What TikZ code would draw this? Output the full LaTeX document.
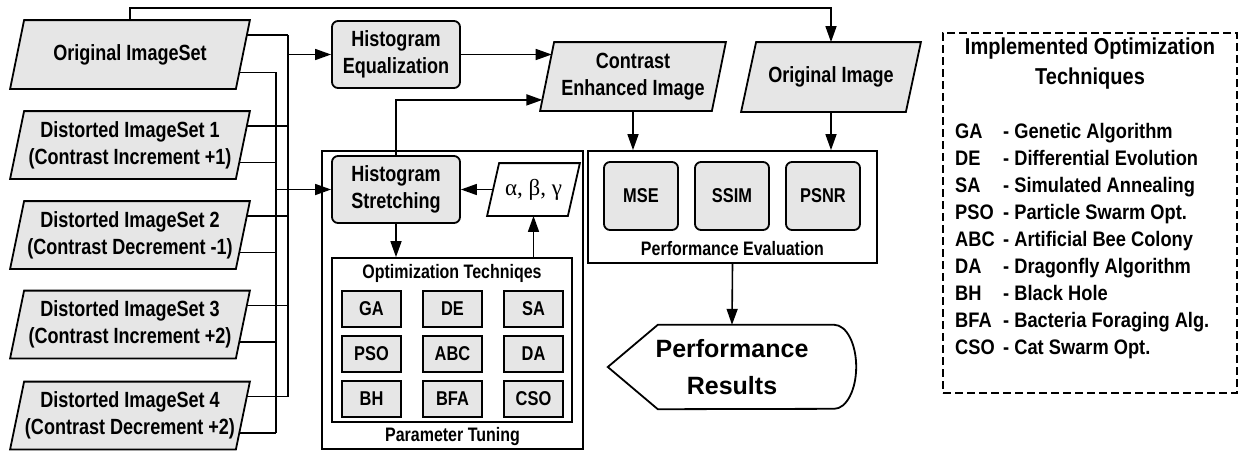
\documentclass[tikz,border=0pt]{standalone}
\usepackage{fontspec}
\setmainfont{Liberation Sans}[FakeStretch=0.82]
\newfontfamily\legfont{Liberation Sans}[FakeStretch=0.87]
\newfontfamily\resfont{Liberation Sans}
\newfontfamily\greekfont{Liberation Serif}
\usetikzlibrary{arrows.meta,positioning,calc,backgrounds}

\definecolor{boxgray}{HTML}{E6E6E6}

\tikzset{
  base/.style={line width=1.8pt, align=center, inner sep=2pt,
    font=\bfseries\fontsize{22}{27}\selectfont},
  dataset/.style={base, rectangle},
  para/.style={line width=1.8pt, draw, fill=boxgray},
  process/.style={base, draw, fill=boxgray, rounded corners=6pt,
    minimum width=128pt, minimum height=67pt},
  frame/.style={draw, line width=1.8pt, inner sep=0pt},
  caption/.style={font=\bfseries\fontsize{19.5}{23}\selectfont, inner sep=1pt},
  technique/.style={base, draw, fill=boxgray, minimum width=59pt,
    minimum height=36pt, font=\bfseries\fontsize{20}{24}\selectfont},
  metric/.style={base, draw, fill=boxgray, rounded corners=6pt,
    minimum width=74pt, minimum height=68pt,
    font=\bfseries\fontsize{20}{24}\selectfont},
  wire/.style={line width=1.6pt},
  arr/.style={line width=1.6pt, -{Triangle[length=16pt,width=11pt]}},
  legitem/.style={inner sep=0pt, font=\legfont\bfseries\fontsize{21}{27}\selectfont}
}

\begin{document}
\begin{tikzpicture}[x=1pt, y=-1pt]
  \useasboundingbox (0,0) rectangle (1239,451);

  % image sets on the left
  \node[dataset, minimum width=238pt, minimum height=67pt] (ois) at (130,54.5) {Original ImageSet};
  \node[dataset, minimum width=238pt, minimum height=66pt] (d1) at (130,145) {Distorted ImageSet 1\\(Contrast Increment +1)};
  \node[dataset, minimum width=238pt, minimum height=66pt] (d2) at (130,235) {Distorted ImageSet 2\\(Contrast Decrement -1)};
  \node[dataset, minimum width=238pt, minimum height=66pt] (d3) at (130,324.5) {Distorted ImageSet 3\\(Contrast Increment +2)};
  \node[dataset, minimum width=238pt, minimum height=66pt] (d4) at (130,415.5) {Distorted ImageSet 4\\(Contrast Decrement +2)};

  \coordinate (busA) at (288,0);
  \coordinate (busB) at (276,0);
  \foreach \n in {ois,d1,d2,d3,d4} {
    \coordinate (\n-up) at ($(\n.north east)!0.22!(\n.south east)+(-3,0)$);
    \coordinate (\n-low) at ($(\n.north east)!0.76!(\n.south east)+(-10.6,0)$);
    \draw[wire] (\n-up) -- (\n-up -| busA);
    \draw[wire] (\n-low) -- (\n-low -| busB);
  }
  \draw[wire] (ois-up -| busA) -- (d4-up -| busA);
  \draw[wire] (ois-low -| busB) -- (d4-low -| busB);

  % enhancement
  \node[frame, minimum width=261pt, minimum height=298pt] (pt) at (452.5,300) {};
  \node[caption] (ptlabel) at (452.5,436) {Parameter Tuning};
  \node[process] (he) at (396,54.5) {Histogram\\Equalization};
  \node[process] (hs) at (396,189.5) {Histogram\\Stretching};
  \node[base, minimum width=91pt, minimum height=51pt,
    font=\greekfont\fontsize{23}{26}\selectfont] (abg) at (533.5,189.5) {α, β, γ};

  \node[frame, minimum width=240pt, minimum height=164pt] (opt) at (452,340) {};
  \node[caption] (opttitle) at (452,273) {Optimization Techniqes};
  \foreach \t [count=\i from 0] in {GA,DE,SA,PSO,ABC,DA,BH,BFA,CSO} {
    \pgfmathsetmacro\cx{371.5+81*mod(\i,3)}
    \pgfmathsetmacro\cy{309+45*int(\i/3)}
    \node[technique] (ot-\t) at (\cx,\cy) {\t};
  }

  % evaluation
  \node[dataset, minimum width=184pt, minimum height=67pt] (cei) at (633,76.5) {Contrast\\Enhanced Image};
  \node[dataset, minimum width=178pt, minimum height=68pt] (oi) at (831,77) {Original Image};
  \node[frame, minimum width=289pt, minimum height=112pt] (pe) at (732.5,207) {};
  \node[caption] (pelabel) at (732.5,249) {Performance Evaluation};
  \node[metric] (mse) at (641,196) {MSE};
  \node[metric] (ssim) at (732,196) {SSIM};
  \node[metric] (psnr) at (823,196) {PSNR};

  \node[inner sep=0pt, minimum width=248pt, minimum height=84pt, align=center,
    font=\resfont\bfseries\fontsize{25}{37}\selectfont] (pr) at (732,367) {Performance\\Results};
  \draw[line width=1.8pt] (pr.west) -- ([xshift=50pt]pr.north west)
    -- ([xshift=-22pt]pr.north east) arc[start angle=90, end angle=-90, x radius=22pt, y radius=42pt]
    -- ([xshift=50pt]pr.south west) -- cycle;

  % slanted outlines behind the text
  \begin{scope}[on background layer]
    \foreach \n/\s in {ois/14,d1/14,d2/14,d3/14,d4/14,cei/14,oi/15}
      \path[para] (\n.south west) -- ([xshift=\s pt]\n.north west) -- (\n.north east)
        -- ([xshift=-\s pt]\n.south east) -- cycle;
    \path[para, fill=white] (abg.south west) -- ([xshift=12pt]abg.north west) -- (abg.north east)
      -- ([xshift=-12pt]abg.south east) -- cycle;
  \end{scope}

  % connectors
  \coordinate (cei-in1) at ($(cei.north west)!0.17!(cei.south west)+(11.6,0)$);
  \coordinate (cei-in2) at ($(cei.north west)!0.84!(cei.south west)+(2.3,0)$);
  \draw[arr] (ois.north) -- ++(0,-12) -| (oi.north);
  \draw[arr] (busA |- he.west) -- (he.west);
  \draw[arr] (busB |- hs.west) -- (hs.west);
  \draw[arr] (he.east) -- (he.east -| cei-in1);
  \draw[arr] (hs.north) |- (cei-in2);
  \draw[arr] ([xshift=6pt]abg.west) -- (hs.east);
  \draw[arr] (hs.south) -- (hs.south |- opt.north);
  \draw[arr] (abg.south |- opt.north) -- (abg.south);
  \draw[arr] (cei.south) -- (cei.south |- pe.north);
  \draw[arr] (oi.south) -- (oi.south |- pe.north);
  \draw[arr] (pe.south) -- (pr.north);

  % legend
  \node[draw, line width=2.6pt, dash pattern=on 8pt off 4pt, minimum width=294pt,
    minimum height=360pt] (legend) at (1090,213) {};
  \node[align=center, inner sep=0pt, font=\legfont\bfseries\fontsize{23}{30}\selectfont]
    (legtitle) at (1090,64) {Implemented Optimization\\Techniques};
  \foreach \abbr/\full [count=\i from 0] in {GA/Genetic Algorithm, DE/Differential Evolution,
      SA/Simulated Annealing, PSO/Particle Swarm Opt., ABC/Artificial Bee Colony,
      DA/Dragonfly Algorithm, BH/Black Hole, BFA/Bacteria Foraging Alg., CSO/Cat Swarm Opt.} {
    \node[legitem, anchor=base west] (leg-\abbr) at (955,138+27*\i) {\makebox[48pt][l]{\abbr}- \full};
  }
\end{tikzpicture}
\end{document}
